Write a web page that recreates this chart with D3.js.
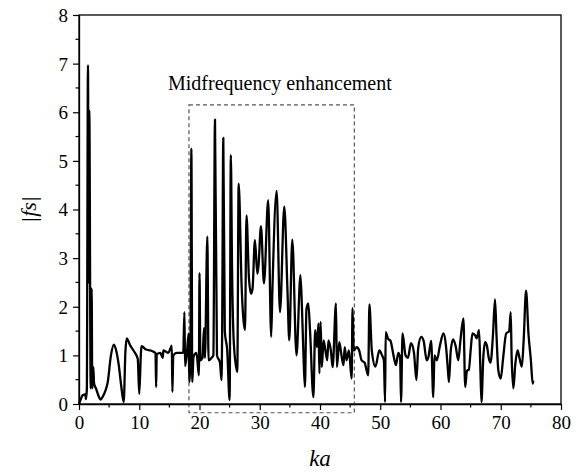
<!DOCTYPE html>
<html>
<head>
<meta charset="utf-8">
<script src="https://cdn.jsdelivr.net/npm/d3@7/dist/d3.min.js"></script>
<style>
  html, body { margin: 0; padding: 0; background: #fff; }
</style>
</head>
<body>
<svg id="chart" width="579" height="473"></svg>
<script>
// ---- data ----
const ka = [0,0.3,0.6,1.05,1.15,1.3,1.49,1.6,1.71,1.94,2.1,2.2,2.38,2.5,2.82,3.2,3.6,3.94,4.4,4.77,5.3,5.78,6.17,6.6,7.0,7.42,7.7,7.92,8.47,9.2,9.75,10.0,10.3,10.4,11.1,11.9,12.45,12.7,12.8,12.9,13.5,13.9,14.0,14.4,14.8,15.2,15.4,15.5,15.65,16.2,16.8,17.3,17.5,17.6,17.9,18.2,18.3,18.5,18.65,18.8,19.0,19.5,19.9,20.0,20.15,20.5,20.75,20.9,21.3,21.5,22.0,22.3,22.57,22.9,23.4,23.65,23.75,23.95,24.2,24.6,25.0,25.2,25.4,25.7,26.27,26.5,27.0,27.25,27.55,27.8,28.2,28.55,28.8,29.2,29.6,29.8,30.2,30.7,31.4,31.9,32.1,32.8,33.36,34.07,34.6,34.9,35.4,36.1,36.75,37.0,37.3,37.5,37.75,38.05,38.35,38.9,39.2,39.5,39.75,39.9,40.1,40.3,40.6,40.9,41.2,41.4,41.8,42.1,42.65,42.8,43.2,43.6,43.9,44.1,44.4,44.8,45.25,45.4,45.6,46.1,46.5,46.9,47.4,48.0,48.2,48.6,49.2,49.85,50.3,50.6,50.8,50.9,51.3,51.7,52.2,52.6,53.0,53.3,53.45,53.7,54.2,54.6,55.1,55.6,56.0,56.3,56.8,57.2,57.7,58.0,58.45,58.8,59.0,59.4,59.9,60.5,60.9,61.2,61.4,61.7,62.1,62.5,62.95,63.3,63.8,64.1,64.4,64.7,65.0,65.3,65.8,66.0,66.4,66.6,66.8,67.1,67.4,67.7,68.0,68.3,68.7,69.05,69.3,69.6,70.0,70.4,70.9,71.4,71.65,71.8,72.1,72.4,72.8,73.1,73.5,73.8,74.2,74.6,75.0,75.3,75.4];
const fs = [0,0.1,0.18,0.2,0.1,0.3,6.97,2.5,6.04,0.32,2.37,0.32,0.76,0.42,0.32,0.18,0.09,0.15,0.28,0.45,1.0,1.22,1.1,0.8,0.38,0.04,1.07,1.35,1.21,1.07,0.93,0.21,1.1,1.19,1.12,1.1,1.07,1.05,0.35,1.02,1.05,0.95,1.1,1.08,1.05,1.15,1.2,0.25,1.0,1.05,1.05,1.05,1.89,0.78,1.03,1.45,0.45,1.1,5.25,0.45,0.97,1.05,0.59,2.69,0.9,0.95,1.56,0.95,3.44,0.9,0.95,1.0,5.85,1.0,0.85,0.49,1.35,5.47,1.5,1.1,0.08,5.12,2.8,1.25,0.66,4.53,2.4,1.8,1.52,3.88,2.61,2.27,2.37,3.37,2.68,2.85,3.66,2.48,4.19,1.38,2.34,4.38,1.89,4.06,2.34,1.31,3.38,1.0,2.65,2.0,0.84,0.35,1.95,2.07,1.5,0.14,1.52,1.17,1.66,0.63,1.69,0.76,1.31,1.1,0.9,1.31,1.1,0.76,2.07,0.76,1.27,0.97,0.8,1.17,0.9,1.1,0.52,1.97,1.1,1.17,1.1,0.9,0.85,0.59,2.05,1.1,0.77,1.1,1.0,0.9,0.04,1.48,1.34,1.3,1.0,0.8,1.05,0.95,0.04,1.45,1.0,0.95,1.25,1.05,0.49,1.15,1.38,1.3,0.9,0.97,1.3,0.14,1.0,0.9,1.2,1.45,1.2,0.75,0.45,1.1,1.33,1.2,0.9,1.3,1.76,0.35,0.69,0.7,1.1,1.45,1.4,1.35,1.52,0.8,0.04,0.95,1.27,1.2,0.95,0.85,1.4,2.15,1.4,0.69,0.52,0.95,1.45,1.5,1.89,1.0,0.32,0.8,1.1,0.95,0.77,1.3,2.33,1.45,0.9,0.42,0.48];
const xTicks = [0,10,20,30,40,50,60,70,80];
const yTicks = [0,1,2,3,4,5,6,7,8];
const xMinor = [5,15,25,35,45,55,65,75];
const yMinor = [0.5,1.5,2.5,3.5,4.5,5.5,6.5,7.5];
const boxKa = [18.25, 45.7];
const boxFs = [-0.18, 6.15];
const annotation = "Midfrequency enhancement";
const xLabel = "ka";
const yLabel = "|fs|";

// ---- layout ----
const FONT = "'Liberation Serif', 'Times New Roman', monospace";
const svg = d3.select("#chart");
const L = 79, R = 561, T = 15, B = 404;
const x = d3.scaleLinear().domain([0, 80]).range([L, R]);
const y = d3.scaleLinear().domain([0, 8]).range([B, T]);

// frame
svg.append("rect").attr("x", L).attr("y", T).attr("width", R - L).attr("height", B - T)
  .attr("fill", "none").attr("stroke", "#000").attr("stroke-width", 1.3);

// dashed box
svg.append("rect")
  .attr("x", x(boxKa[0])).attr("y", y(boxFs[1]))
  .attr("width", x(boxKa[1]) - x(boxKa[0])).attr("height", y(boxFs[0]) - y(boxFs[1]))
  .attr("fill", "none").attr("stroke", "#555").attr("stroke-width", 1.2)
  .attr("stroke-dasharray", "4,3");

// axes
const xAxis = d3.axisBottom(x).tickValues(xTicks).tickSize(6).tickSizeOuter(0).tickPadding(4).tickFormat(d3.format("d"));
const gx = svg.append("g").attr("transform", `translate(0,${B})`).call(xAxis);
const yAxis = d3.axisLeft(y).tickValues(yTicks).tickSize(6).tickSizeOuter(0).tickPadding(5).tickFormat(d3.format("d"));
const gy = svg.append("g").attr("transform", `translate(${L},0)`).call(yAxis);
[gx, gy].forEach(g => {
  g.attr("font-family", FONT).attr("font-size", 19);
  g.select(".domain").attr("stroke", "#000").attr("stroke-width", 1.3);
  g.selectAll(".tick line").attr("stroke", "#000").attr("stroke-width", 1.2);
  g.selectAll(".tick text").attr("font-family", FONT).attr("font-size", 19).attr("fill", "#000");
});
gx.selectAll(".tick text").attr("dy", "0.78em");
gy.selectAll(".tick text").attr("dy", "0.34em");
// minor ticks
svg.append("g").selectAll("line").data(xMinor).join("line")
  .attr("x1", d => x(d)).attr("x2", d => x(d)).attr("y1", B).attr("y2", B + 3.5)
  .attr("stroke", "#000").attr("stroke-width", 1.2);
svg.append("g").selectAll("line").data(yMinor).join("line")
  .attr("x1", L).attr("x2", L - 3.5).attr("y1", d => y(d)).attr("y2", d => y(d))
  .attr("stroke", "#000").attr("stroke-width", 1.2);

// data line
const pts = ka.map((k, i) => [k, fs[i]]);
svg.append("path").datum(pts)
  .attr("fill", "none").attr("stroke", "#000").attr("stroke-width", 2.3)
  .attr("stroke-linejoin", "round")
  .attr("d", d3.line().x(d => x(d[0])).y(d => y(d[1])).curve(d3.curveMonotoneX));

// annotation
svg.append("text").attr("x", 168).attr("y", 90).attr("font-family", FONT).attr("font-size", 20).attr("fill", "#000").text(annotation);

// axis labels
svg.append("text").attr("x", (L + R) / 2).attr("y", 466).attr("text-anchor", "middle")
  .attr("font-family", FONT).attr("font-size", 23).attr("font-style", "italic").attr("fill", "#000").text(xLabel);
svg.append("text").attr("transform", `translate(36,${(T + B) / 2}) rotate(-90)`).attr("text-anchor", "middle")
  .attr("font-family", FONT).attr("font-size", 22).attr("font-style", "italic").attr("fill", "#000").text(yLabel);
</script>
</body>
</html>
